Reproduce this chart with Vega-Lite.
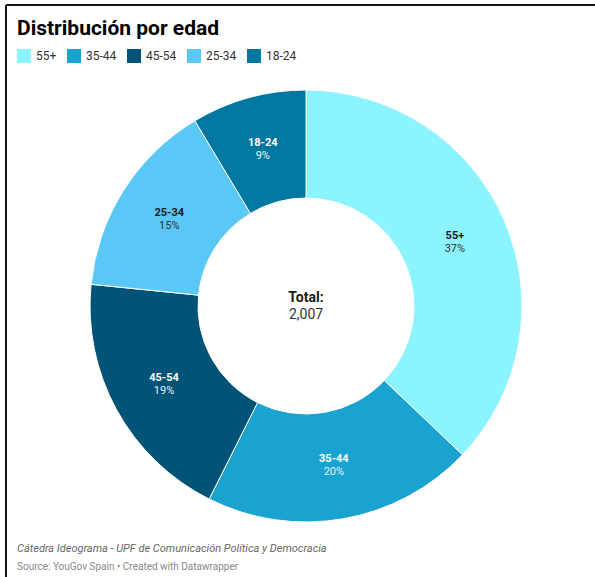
{
  "$schema": "https://vega.github.io/schema/vega-lite/v6.json",
  "width": 589,
  "height": 572,
  "autosize": {"type": "none"},
  "padding": {"left": 6, "top": 5, "right": 0, "bottom": 0},
  "background": "white",
  "view": {"stroke": "#111111", "strokeWidth": 2, "strokeDash": [589, 1161, 572, 0], "fill": "white"},
  "config": {"font": "Roboto"},
  "title": {
    "text": "Cátedra Ideograma - UPF de Comunicación Política y Democracia",
    "subtitle": "Source: YouGov Spain • Created with Datawrapper",
    "orient": "bottom",
    "anchor": "start",
    "frame": "group",
    "dx": 11,
    "offset": -34,
    "font": "Roboto",
    "fontSize": 11,
    "fontStyle": "italic",
    "fontWeight": "normal",
    "color": "#666",
    "subtitleFont": "Roboto",
    "subtitleFontSize": 10,
    "subtitleFontStyle": "normal",
    "subtitleColor": "#888",
    "subtitlePadding": 8
  },
  "layer": [
    {
      "data": {"name": "edad", "values": [
        {"grupo": "55+", "pct": 0.371},
        {"grupo": "35-44", "pct": 0.203},
        {"grupo": "45-54", "pct": 0.192},
        {"grupo": "25-34", "pct": 0.148},
        {"grupo": "18-24", "pct": 0.086}
      ]},
      "layer": [
        {
          "mark": {"type": "arc", "innerRadius": 108, "outerRadius": 216, "stroke": "white", "strokeWidth": 1, "xOffset": 5.5, "yOffset": 15},
          "encoding": {
            "theta": {"field": "pct", "type": "quantitative", "stack": true},
            "order": {"field": "pct", "sort": "descending"},
            "color": {
              "field": "grupo",
              "type": "nominal",
              "scale": {
                "domain": ["55+", "35-44", "45-54", "25-34", "18-24"],
                "range": ["#8cf4ff", "#1aa3d0", "#015478", "#5ac8f7", "#0277a2"]
              },
              "legend": {
                "title": "Distribución por edad",
                "orient": "none",
                "legendX": 11,
                "legendY": 13,
                "direction": "horizontal",
                "columns": 5,
                "symbolType": "square",
                "symbolSize": 196,
                "symbolStrokeWidth": 0,
                "symbolOpacity": 1,
                "labelFont": "Roboto",
                "labelFontSize": 12,
                "labelColor": "#333",
                "labelOffset": 5,
                "columnPadding": 10,
                "titleFont": "Roboto",
                "titleFontSize": 21,
                "titleFontWeight": "bold",
                "titleColor": "#000",
                "titleLimit": 600,
                "titlePadding": 10,
                "titleAnchor": "start"
              }
            }
          }
        },
        {
          "mark": {"type": "text", "radius": 162, "dy": -6.5, "font": "Roboto", "fontSize": 11, "fontWeight": "bold", "xOffset": 5.5, "yOffset": 15},
          "encoding": {
            "theta": {"field": "pct", "type": "quantitative", "stack": true},
            "order": {"field": "pct", "sort": "descending"},
            "text": {"field": "grupo"},
            "color": {"condition": {"test": "datum.grupo === '55+' || datum.grupo === '25-34'", "value": "#1a1a1a"}, "value": "#ffffff"}
          }
        },
        {
          "mark": {"type": "text", "radius": 162, "dy": 6.5, "font": "Roboto", "fontSize": 11, "xOffset": 5.5, "yOffset": 15},
          "encoding": {
            "theta": {"field": "pct", "type": "quantitative", "stack": true},
            "order": {"field": "pct", "sort": "descending"},
            "text": {"field": "pct", "format": ".0%"},
            "color": {"condition": {"test": "datum.grupo === '55+' || datum.grupo === '25-34'", "value": "#333333"}, "value": "#e6f2f7"}
          }
        }
      ]
    },
    {
      "data": {"values": [{"etiqueta": "Total:", "total": 2007}]},
      "layer": [
        {
          "mark": {"type": "text", "dy": -8.5, "font": "Roboto", "fontSize": 14, "fontWeight": "bold", "color": "#1a1a1a", "xOffset": 5.5, "yOffset": 15},
          "encoding": {"text": {"field": "etiqueta"}}
        },
        {
          "mark": {"type": "text", "dy": 8.5, "font": "Roboto", "fontSize": 14, "color": "#333333", "xOffset": 5.5, "yOffset": 15},
          "encoding": {"text": {"field": "total", "format": ",d"}}
        }
      ]
    }
  ]
}
